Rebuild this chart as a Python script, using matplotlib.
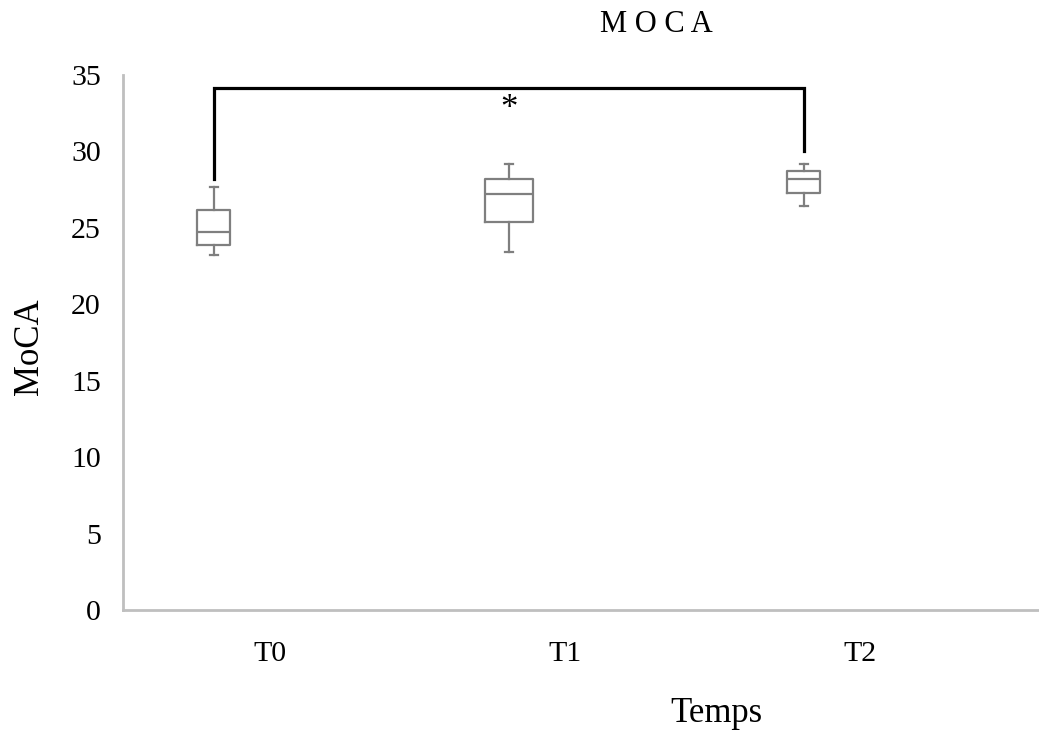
import matplotlib
matplotlib.use("Agg")
import matplotlib.pyplot as plt

plt.rcParams['font.family'] = ['Liberation Serif', 'DejaVu Serif']

# box stats
groups = ['T0', 'T1', 'T2']
whislo = [23.2, 23.4, 26.45]
q1 = [23.9, 25.4, 27.3]
med = [24.7, 27.2, 28.2]
q3 = [26.2, 28.2, 28.7]
whishi = [27.7, 29.2, 29.2]
box_w = [0.112, 0.163, 0.112]

# significance bracket T0 vs T2
bracket_lo = [28.2, 30.0]
bracket_top = 34.15
star_y = 32.75

fig = plt.figure(figsize=(10.39, 7.31), dpi=100)
ax = fig.add_axes([0.1184, 0.1655, 0.8816, 0.7319])

pos = [i - 0.19 for i in range(len(groups))]
stats = []
for i, g in enumerate(groups):
    stats.append({'label': g, 'whislo': whislo[i], 'q1': q1[i], 'med': med[i],
                  'q3': q3[i], 'whishi': whishi[i], 'fliers': []})

grey = '#7f7f7f'
ax.bxp(stats, positions=pos, widths=box_w, capwidths=0.028, showfliers=False,
       boxprops=dict(color=grey, linewidth=1.6),
       whiskerprops=dict(color=grey, linewidth=1.6),
       capprops=dict(color=grey, linewidth=1.6),
       medianprops=dict(color=grey, linewidth=1.6),
       manage_ticks=False)

ax.plot([pos[0], pos[0], pos[2], pos[2]],
        [bracket_lo[0], bracket_top, bracket_top, bracket_lo[1]],
        color='black', linewidth=2.3, solid_joinstyle='miter')
ax.text(pos[1], star_y, '*', ha='center', va='center', fontsize=25)

ax.set_xlim(-0.498, 2.607)
ax.set_ylim(0, 35)
ax.set_yticks(range(0, 36, 5))
ax.set_xticks(range(len(groups)))
ax.set_xticklabels(groups)
ax.tick_params(axis='both', length=0, labelsize=21.5)
ax.tick_params(axis='y', pad=16)
ax.tick_params(axis='x', pad=22)

for s in ['top', 'right']:
    ax.spines[s].set_visible(False)
for s in ['left', 'bottom']:
    ax.spines[s].set_color('#bfbfbf')
    ax.spines[s].set_linewidth(2)

ax.set_ylabel('MoCA', fontsize=25)
ax.yaxis.set_label_coords(-0.102, 0.493)
ax.yaxis.label.set_va('center')
ax.set_xlabel('Temps', fontsize=25)
ax.xaxis.set_label_coords(0.648, -0.193)
ax.xaxis.label.set_va('center')

fig.text(656 / 1039, 1 - 24 / 731, 'M O C A', ha='center', va='center', fontsize=22)

fig.savefig('out.png', dpi=100)
